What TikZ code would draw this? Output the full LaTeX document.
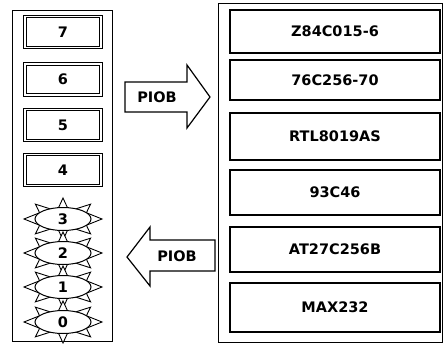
\documentclass[tikz,border=0pt]{standalone}
\usepackage{fontspec}
\setmainfont{DejaVu Sans}
\usetikzlibrary{positioning, shapes.geometric}

\begin{document}
\begin{tikzpicture}[x=1pt, y=-1pt, every node/.style={font=\fontsize{14.5}{17}\selectfont\bfseries}]
  \def\LX{63}
  \def\RX{335}
  \tikzset{
    frame/.style={draw, line width=0.8pt},
    pinbox/.style={draw, double, line width=0.9pt, double distance=1.6pt, minimum width=76pt, minimum height=31pt, inner sep=0pt},
    chip/.style={draw, line width=1.2pt, minimum width=210pt, inner sep=0pt},
    pinoval/.style={ellipse, draw, fill=white, line width=1pt, minimum width=56pt, minimum height=23pt, inner sep=0pt},
    spikes/.style={draw, fill=white, line width=0.9pt, line join=miter},
    bigarrow/.style={draw, fill=white, line width=1.2pt, line join=miter},
  }
  \useasboundingbox (0,0) rectangle (443,343);

  %% ===== Left column: port pins =====
  \draw[frame] (12,10) rectangle (112,341);
  \foreach \n/\yc in {7/32, 6/79.5, 5/125, 4/170}
    \node[pinbox] (pin\n) at (\LX,\yc) {\n};
  % pins 3..0 as ovals with spikes
  \foreach \n/\yc in {3/219, 2/253, 1/287, 0/322} {
    \begin{scope}[shift={(\LX,\yc)}]
      \foreach \a in {0,45,...,315} {
        \pgfmathsetmacro\ux{15*cos(\a)}
        \pgfmathsetmacro\uy{13*sin(\a)}
        \pgfmathsetmacro\ul{veclen(\ux,\uy)}
        \pgfmathsetmacro\px{-6*(\uy)/\ul}
        \pgfmathsetmacro\py{6*(\ux)/\ul}
        \draw[spikes] ({24*cos(\a)+\px},{8*sin(\a)+\py}) -- ({39*cos(\a)},{21*sin(\a)})
          -- ({24*cos(\a)-\px},{8*sin(\a)-\py}) -- cycle;
      }
    \end{scope}
    \node[pinoval] (pin\n) at (\LX,\yc) {\n};
  }

  %% ===== Right column: chips =====
  \draw[frame] (218,3) rectangle (442,342);
  \foreach \nm/\txt/\yc/\h in {z84/Z84C015-6/31.5/43pt, ram/76C256-70/80/40pt,
      rtl/RTL8019AS/136.5/47pt, eep/93C46/192.5/45pt,
      rom/AT27C256B/249.5/45pt, max/MAX232/307.5/49pt}
    \node[chip, minimum height=\h] (\nm) at (\RX,\yc) {\txt};

  %% ===== PIOB arrows =====
  \draw[bigarrow] (125,82) -- (187,82) -- (187,65) -- (210,97) -- (187,128)
    -- (187,112) -- (125,112) -- cycle;
  \node (piobout) at (157,97) {PIOB};
  \draw[bigarrow] (215,240) -- (150,240) -- (150,227) -- (127,257) -- (150,286)
    -- (150,271) -- (215,271) -- cycle;
  \node (piobin) at (177,256) {PIOB};
\end{tikzpicture}
\end{document}
